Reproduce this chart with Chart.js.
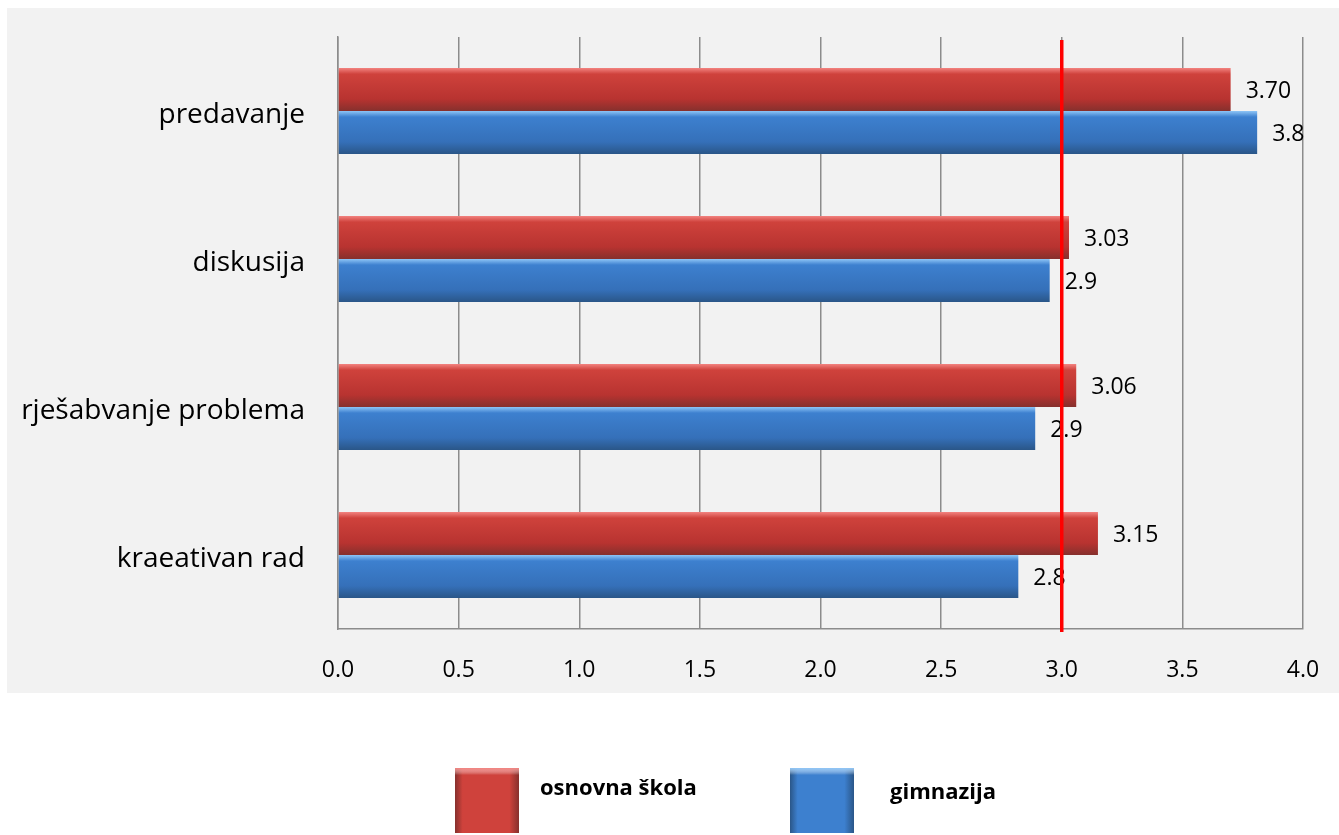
<!DOCTYPE html>
<html>
<head>
<meta charset="utf-8">
<script src="https://cdn.jsdelivr.net/npm/chart.js"></script>
<style>
  html, body { margin: 0; padding: 0; background: #ffffff; }
  #wrap { width: 1339px; height: 835px; position: relative; }
</style>
</head>
<body>
<div id="wrap"><canvas id="chart"></canvas></div>
<script>
// data
const categories = ['predavanje', 'diskusija', 'rješabvanje problema', 'kraeativan rad'];
const seriesNames = ['osnovna škola', 'gimnazija'];
const osnovnaValues = [3.70, 3.03, 3.06, 3.15];
const gimnazijaValues = [3.81, 2.95, 2.89, 2.82];
const osnovnaLabels = ['3.70', '3.03', '3.06', '3.15'];
const gimnazijaLabels = ['3.8', '2.9', '2.9', '2.8'];
const xTicks = [0, 0.5, 1, 1.5, 2, 2.5, 3, 3.5, 4];
const thresholdValue = 3.0;

const FONT = '"Open Sans", "Noto Sans", sans-serif';
const CAT_PCT = 0.58;

const redShades = ['#f2827f', '#cf423c', '#b83330', '#86302d'];
const blueShades = ['#8ec5f6', '#3d80cf', '#3570b9', '#2a5688'];

// vertical shading for each bar, based on where the y scale puts it
function barGradient(shades, side) {
  return function(ctx) {
    const chart = ctx.chart;
    const y = chart.scales.y;
    if (!y || ctx.dataIndex === undefined || !chart.chartArea) return shades[1];
    const center = y.getPixelForValue(ctx.dataIndex);
    const band = Math.abs(y.getPixelForValue(1) - y.getPixelForValue(0));
    const t = band * CAT_PCT / 2;
    const top = side === 0 ? center - t : center;
    const g = chart.ctx.createLinearGradient(0, top, 0, top + t);
    g.addColorStop(0, shades[0]);
    g.addColorStop(0.14, shades[1]);
    g.addColorStop(0.72, shades[2]);
    g.addColorStop(1, shades[3]);
    return g;
  };
}

const panelBackground = {
  id: 'panelBackground',
  beforeDraw(chart) {
    const c = chart.ctx;
    c.save();
    c.fillStyle = '#f2f2f2';
    c.fillRect(7, 8, chart.width - 7, 685);
    c.restore();
  }
};

const valueLabels = {
  id: 'valueLabels',
  afterDatasetsDraw(chart) {
    const c = chart.ctx;
    const texts = [osnovnaLabels, gimnazijaLabels];
    c.save();
    c.font = '23px ' + FONT;
    c.fillStyle = '#000';
    c.textAlign = 'left';
    c.textBaseline = 'middle';
    chart.data.datasets.forEach((ds, di) => {
      chart.getDatasetMeta(di).data.forEach((bar, i) => {
        c.fillText(texts[di][i], bar.x + 15, bar.y + 2);
      });
    });
    c.restore();
  }
};

const thresholdLine = {
  id: 'thresholdLine',
  afterDraw(chart) {
    const c = chart.ctx;
    const x = chart.scales.x.getPixelForValue(thresholdValue);
    const a = chart.chartArea;
    c.save();
    c.strokeStyle = '#ff0000';
    c.lineWidth = 3.5;
    c.beginPath();
    c.moveTo(x, a.top + 3);
    c.lineTo(x, a.bottom + 3);
    c.stroke();
    c.restore();
  }
};

const boxLegend = {
  id: 'boxLegend',
  afterDraw(chart) {
    const c = chart.ctx;
    const items = [
      { box: 455, text: 540, shades: redShades },
      { box: 790, text: 890, shades: blueShades }
    ];
    c.save();
    items.forEach((it, i) => {
      const g = c.createLinearGradient(it.box, 0, it.box + 64, 0);
      g.addColorStop(0, it.shades[3]);
      g.addColorStop(0.12, it.shades[1]);
      g.addColorStop(0.85, it.shades[1]);
      g.addColorStop(1, it.shades[3]);
      c.fillStyle = g;
      c.fillRect(it.box, 768, 64, 65);
      const g2 = c.createLinearGradient(0, 768, 0, 775);
      g2.addColorStop(0, it.shades[0]);
      g2.addColorStop(1, 'rgba(255,255,255,0)');
      c.fillStyle = g2;
      c.fillRect(it.box, 768, 64, 7);
      c.fillStyle = '#000';
      c.font = 'bold 22px ' + FONT;
      c.textAlign = 'left';
      c.textBaseline = 'middle';
      c.fillText(seriesNames[i], it.text, 789 + i * 4);
    });
    c.restore();
  }
};

new Chart(document.getElementById('chart'), {
  type: 'bar',
  data: {
    labels: categories,
    datasets: [
      {
        label: seriesNames[0],
        data: osnovnaValues,
        backgroundColor: barGradient(redShades, 0),
        borderWidth: 0,
        categoryPercentage: CAT_PCT,
        barPercentage: 1.0
      },
      {
        label: seriesNames[1],
        data: gimnazijaValues,
        backgroundColor: barGradient(blueShades, 1),
        borderWidth: 0,
        categoryPercentage: CAT_PCT,
        barPercentage: 1.0
      }
    ]
  },
  options: {
    indexAxis: 'y',
    responsive: true,
    maintainAspectRatio: false,
    animation: false,
    layout: { padding: { top: 37, right: 36, bottom: 146, left: 0 } },
    plugins: {
      legend: { display: false },
      tooltip: { enabled: false }
    },
    scales: {
      x: {
        min: 0,
        max: 4,
        afterBuildTicks(scale) { scale.ticks = xTicks.map(v => ({ value: v })); },
        afterFit(scale) { scale.height = 60; scale.paddingLeft = 0; scale.paddingRight = 0; },
        grid: { color: '#8c8c8c', lineWidth: 1.5, drawTicks: false },
        border: { color: '#8c8c8c', width: 1.5 },
        ticks: {
          padding: 28,
          color: '#000',
          font: { family: FONT, size: 23 },
          callback: v => Number(v).toFixed(1)
        }
      },
      y: {
        afterFit(scale) { scale.width = 338; scale.paddingTop = 0; scale.paddingBottom = 0; },
        grid: { display: false, drawTicks: false },
        border: { color: '#8c8c8c', width: 1.5 },
        ticks: {
          padding: 33,
          labelOffset: 4,
          color: '#000',
          font: { family: FONT, size: 28 }
        }
      }
    }
  },
  plugins: [panelBackground, valueLabels, thresholdLine, boxLegend]
});
</script>
</body>
</html>
